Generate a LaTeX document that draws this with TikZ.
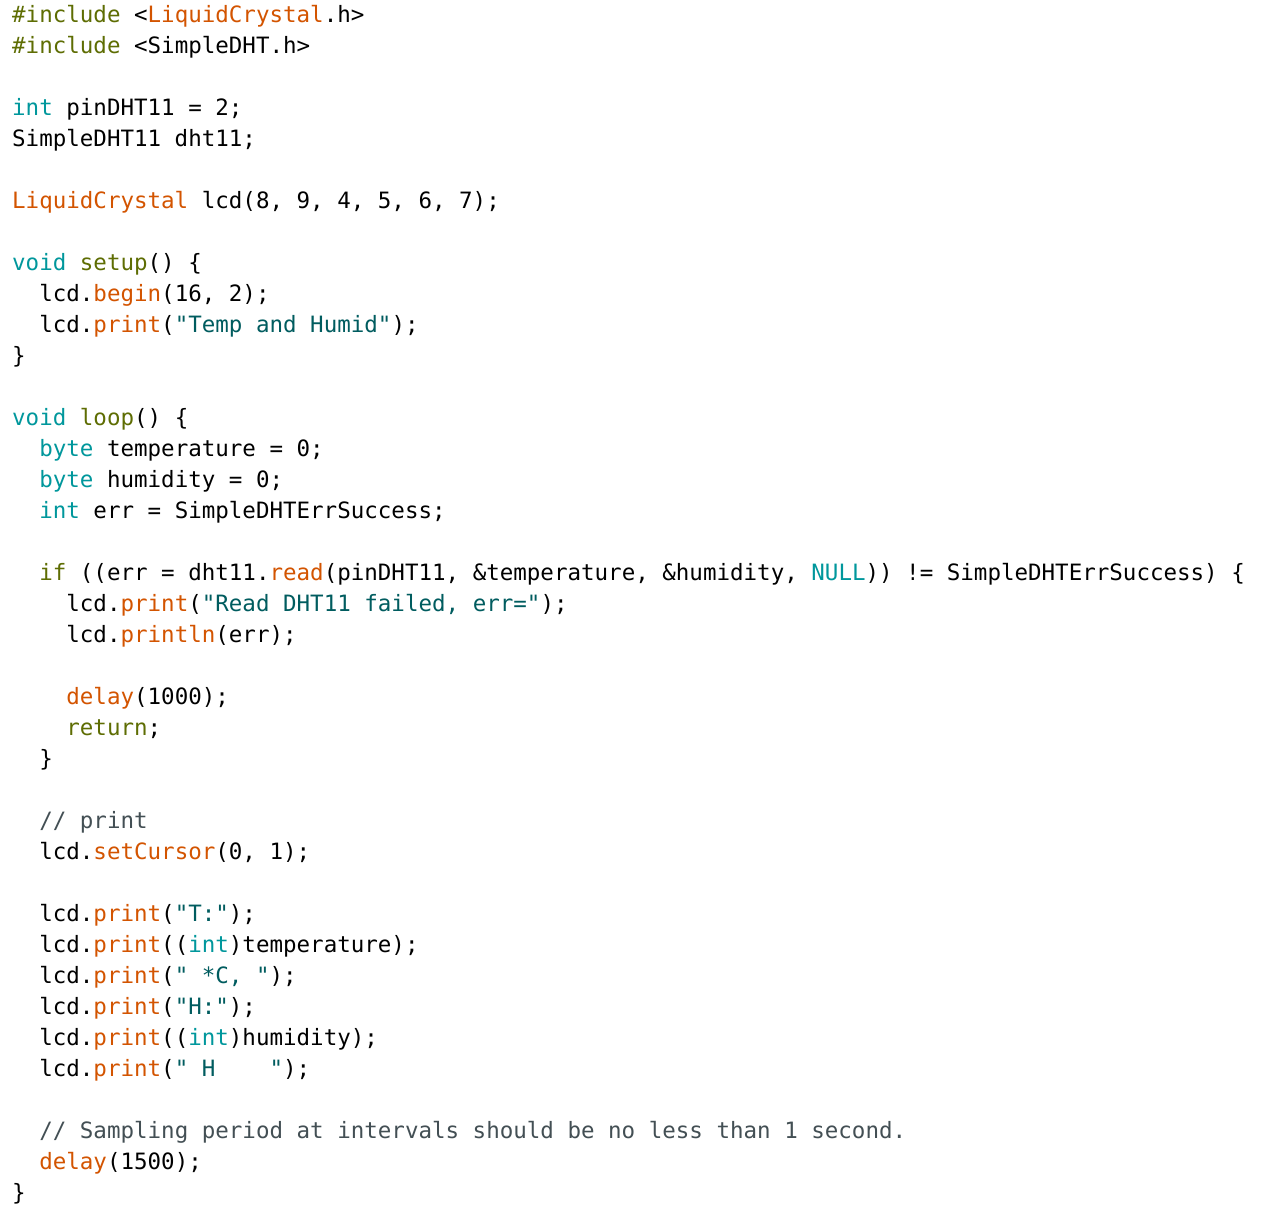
\documentclass[tikz,border=0pt]{standalone}
\usepackage{fontspec}
\setmonofont{DejaVu Sans Mono}
\definecolor{kw}{HTML}{00979C}
\definecolor{fn}{HTML}{D35400}
\definecolor{st}{HTML}{005C5F}
\definecolor{ol}{HTML}{5E6D03}
\definecolor{cm}{HTML}{434F54}
\newcommand{\K}[1]{\textcolor{kw}{#1}}
\newcommand{\F}[1]{\textcolor{fn}{#1}}
\newcommand{\St}[1]{\textcolor{st}{#1}}
\newcommand{\Ol}[1]{\textcolor{ol}{#1}}
\newcommand{\Cm}[1]{\textcolor{cm}{#1}}
\begin{document}
\begin{tikzpicture}[x=1pt,y=1pt,
  ln/.style={anchor=base west,inner sep=0,font=\ttfamily\fontsize{22.5}{22.5}\selectfont,text=black}]
\fill[white] (0,0) rectangle (1280,-1221);
\useasboundingbox (0,0) rectangle (1280,-1221);
\def\cw{13.55}
\newcommand{\Ln}[4]{\node[ln] (#1) at (12+#3*\cw,-22-31*#2) {#4};}
\Ln{l0}{0}{0}{\Ol{\#include} <\F{LiquidCrystal}.h>}
\Ln{l1}{1}{0}{\Ol{\#include} <SimpleDHT.h>}
\Ln{l3}{3}{0}{\K{int} pinDHT11 = 2;}
\Ln{l4}{4}{0}{SimpleDHT11 dht11;}
\Ln{l6}{6}{0}{\F{LiquidCrystal} lcd(8, 9, 4, 5, 6, 7);}
\Ln{l8}{8}{0}{\K{void} \Ol{setup}() \{}
\Ln{l9}{9}{2}{lcd.\F{begin}(16, 2);}
\Ln{l10}{10}{2}{lcd.\F{print}(\St{"Temp and Humid"});}
\Ln{l11}{11}{0}{\}}
\Ln{l13}{13}{0}{\K{void} \Ol{loop}() \{}
\Ln{l14}{14}{2}{\K{byte} temperature = 0;}
\Ln{l15}{15}{2}{\K{byte} humidity = 0;}
\Ln{l16}{16}{2}{\K{int} err = SimpleDHTErrSuccess;}
\Ln{l18}{18}{2}{\Ol{if} ((err = dht11.\F{read}(pinDHT11, \&temperature, \&humidity, \K{NULL})) != SimpleDHTErrSuccess) \{}
\Ln{l19}{19}{4}{lcd.\F{print}(\St{"Read DHT11 failed, err="});}
\Ln{l20}{20}{4}{lcd.\F{println}(err);}
\Ln{l22}{22}{4}{\F{delay}(1000);}
\Ln{l23}{23}{4}{\Ol{return};}
\Ln{l24}{24}{2}{\}}
\Ln{l26}{26}{2}{\Cm{// print}}
\Ln{l27}{27}{2}{lcd.\F{setCursor}(0, 1);}
\Ln{l29}{29}{2}{lcd.\F{print}(\St{"T:"});}
\Ln{l30}{30}{2}{lcd.\F{print}((\K{int})temperature);}
\Ln{l31}{31}{2}{lcd.\F{print}(\St{"\ *C,\ "});}
\Ln{l32}{32}{2}{lcd.\F{print}(\St{"H:"});}
\Ln{l33}{33}{2}{lcd.\F{print}((\K{int})humidity);}
\Ln{l34}{34}{2}{lcd.\F{print}(\St{"\ H\ \ \ \ "});}
\Ln{l36}{36}{2}{\Cm{// Sampling period at intervals should be no less than 1 second.}}
\Ln{l37}{37}{2}{\F{delay}(1500);}
\Ln{l38}{38}{0}{\}}
\end{tikzpicture}
\end{document}
